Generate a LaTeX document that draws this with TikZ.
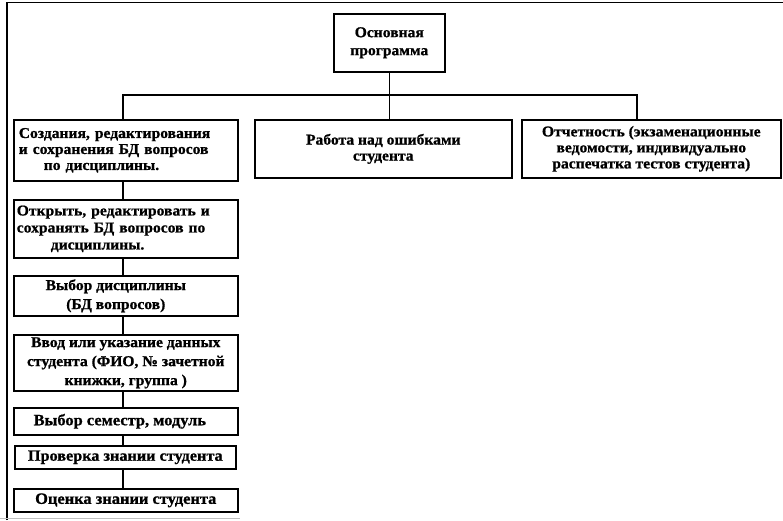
\documentclass[tikz,border=0pt]{standalone}
\usepackage{fontspec}
\newfontfamily\boxfont{Liberation Serif Bold}[FakeStretch=1.04, FakeBold=0.9]
\begin{document}
\begin{tikzpicture}[x=1pt,y=-1pt,
  box/.style={draw, line width=1.6pt, inner sep=0pt, align=center, anchor=north west,
    font=\boxfont\fontsize{15}{16}\selectfont},
  lbox/.style={box, align=left, inner xsep=5pt},
  conn/.style={line width=1.3pt},
  frame/.style={line width=1.5pt}]
\useasboundingbox (0,0) rectangle (783,520);
% outer frame
\draw[frame] (7,520) -- (7,2.5) -- (783,2.5);
\draw[gray!50, line width=0.8pt] (0,518) -- (240,518);
% top level
\node[box, minimum width=111pt, minimum height=58pt, font=\boxfont\fontsize{15}{18}\selectfont] (main) at (333,13) {Основная\\программа};
\node[box, minimum width=257pt, minimum height=58pt] (mid) at (254,119) {Работа над ошибками\\студента};
\node[box, minimum width=259pt, minimum height=58pt] (rep) at (521,119) {Отчетность (экзаменационные\\ведомости, индивидуально\\распечатка тестов студента)};
% left column
\node[lbox, text width=214pt, minimum height=61pt] (b1) at (13,119) {Создания, редактирования\\и сохранения БД вопросов\\\hspace*{25pt}по дисциплины.};
\node[lbox, inner xsep=3pt, text width=218pt, minimum height=58pt, font=\boxfont\fontsize{15}{17}\selectfont] (b2) at (13,199) {Открыть, редактировать и\\сохранять БД вопросов по\\\hspace*{34pt}дисциплины.};
\node[box, minimum width=224pt, minimum height=40pt, font=\boxfont\fontsize{15}{19}\selectfont] (b3) at (13,275) {\hspace*{-20pt}Выбор дисциплины\\\hspace*{-20pt}(БД вопросов)};
\node[box, minimum width=224pt, minimum height=56pt, font=\boxfont\fontsize{15}{19}\selectfont] (b4) at (13,334) {Ввод или указание данных\\студента (ФИО, № зачетной\\книжки, группа )};
\node[box, minimum width=224pt, minimum height=27pt, font=\boxfont\fontsize{15.8}{16}\selectfont] (b5) at (13,407) {\hspace*{-12pt}Выбор семестр, модуль};
\node[box, minimum width=221pt, minimum height=23pt, font=\boxfont\fontsize{15.6}{16}\selectfont] (b6) at (14,445) {Проверка знании студента};
\node[box, minimum width=224pt, minimum height=23pt, font=\boxfont\fontsize{15.8}{16}\selectfont] (b7) at (13,488) {Оценка знании студента};
% connectors
\coordinate (busL) at (123,95);
\coordinate (busR) at (637,95);
\draw[conn] (main.south) -- (main.south |- mid.north);
\draw[conn] (b1.north -| busL) -- (busL) -- (busR) -- (busR |- rep.north);
\draw[conn] (b1.south -| busL) -- (b2.north -| busL);
\draw[conn] (b2.south -| busL) -- (b3.north -| busL);
\draw[conn] (b3.south -| busL) -- (b4.north -| busL);
\draw[conn] (b4.south -| busL) -- (b5.north -| busL);
\draw[conn] (b5.south -| busL) -- (b6.north -| busL);
\draw[conn] (b6.south -| busL) -- (b7.north -| busL);
\end{tikzpicture}
\end{document}
